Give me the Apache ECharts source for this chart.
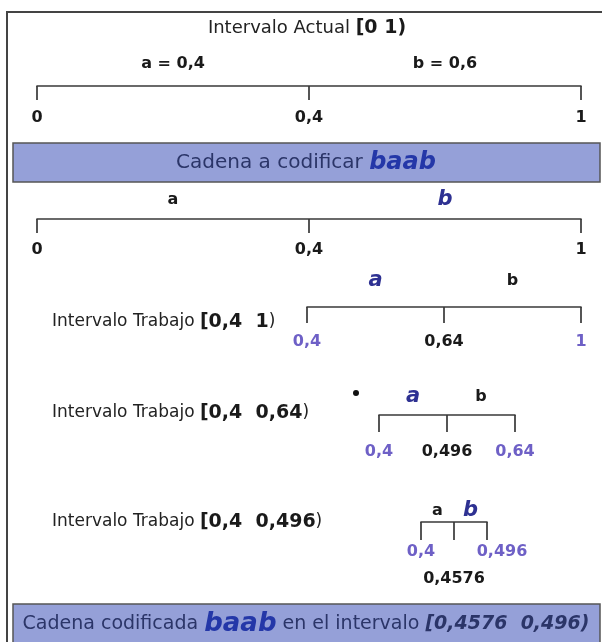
<!DOCTYPE html>
<html><head><meta charset="utf-8">
<script src="https://cdn.jsdelivr.net/npm/echarts@6/dist/echarts.min.js"></script>
<style>html,body{margin:0;padding:0;background:#fff}#c{width:602px;height:642px}</style>
</head><body><div id="c"></div>
<script>
// ---------- data ----------
const symbols = ['a', 'b'];
const probabilities = [0.4, 0.6];
const cadena = 'baab';
const intervaloActual = [0, 1];
const ticksActual = [0, 0.4, 1];
const ticksStep1 = [0, 0.4, 1];
const ticksStep2 = [0.4, 0.64, 1];
const ticksStep3 = [0.4, 0.496, 0.64];
const ticksStep4 = [0.4, 0.4576, 0.496];
const intervaloFinal = [0.4576, 0.496];

// ---------- helpers ----------
const fmt = v => String(v).replace('.', ',');
const FF = 'DejaVu Sans';
const NAVY = '#2e3192';
const PURPLE = '#6e60c6';
const LINE = '#383838';

const rows = [
  { ticks: ticksActual, chosen: null, header: null },
  { ticks: ticksStep1, chosen: cadena[0], header: null },
  { ticks: ticksStep2, chosen: cadena[1], header: [ticksStep2[0], ticksStep2[2]] },
  { ticks: ticksStep3, chosen: cadena[2], header: [ticksStep3[0], ticksStep3[2]] },
  { ticks: ticksStep4, chosen: cadena[3], header: [ticksStep4[0], ticksStep4[2]] }
];

// layout (positions only)
const layout = [
  { x0: 37, x1: 581, line: 86, tick: 14, lm: 22, sm: 10, hy: null },
  { x0: 37, x1: 581, line: 219, tick: 14, lm: 21, sm: 7, hy: null },
  { x0: 307, x1: 581, line: 307, tick: 16, lm: 25, sm: 14, hy: 322 },
  { x0: 379, x1: 515, line: 415, tick: 17, lm: 27, sm: 6, hy: 413 },
  { x0: 421, x1: 487, line: 522, tick: 18, lm: 20, sm: -1, hy: 522 }
];

const tickRich = {
  k: { fontFamily: FF, fontSize: 16, fontWeight: 'bold', color: '#1a1a1a', lineHeight: 20 },
  p: { fontFamily: FF, fontSize: 16, fontWeight: 'bold', color: PURPLE, lineHeight: 20 },
  kd: { fontFamily: FF, fontSize: 16, fontWeight: 'bold', color: '#1a1a1a', lineHeight: 20, padding: [54, 0, 0, 0] },
  pr: { fontFamily: FF, fontSize: 16, fontWeight: 'bold', color: PURPLE, lineHeight: 20, padding: [0, 0, 0, 30] }
};
const segRich = {
  k: { fontFamily: FF, fontSize: 16, fontWeight: 'bold', color: '#1a1a1a', lineHeight: 22 },
  h: { fontFamily: FF, fontSize: 21, fontWeight: 'bold', fontStyle: 'italic', color: NAVY, lineHeight: 22 }
};

const grids = [], xAxes = [], yAxes = [];
rows.forEach((r, i) => {
  const L = layout[i];
  grids.push({ left: L.x0, top: L.line - 1, width: L.x1 - L.x0, height: 1 });
  const last = i === rows.length - 1;
  xAxes.push({
    gridIndex: i, type: 'category', position: 'bottom', boundaryGap: false,
    data: r.ticks.map(fmt),
    axisLine: { show: true, onZero: false, lineStyle: { color: LINE, width: 1.7 } },
    axisTick: { show: true, length: L.tick, lineStyle: { color: LINE, width: 1.7 } },
    splitLine: { show: false },
    axisLabel: {
      show: true, interval: 0, margin: L.lm, rich: tickRich,
      formatter: (v, idx) => {
        const end = r.header && (idx === 0 || idx === 2);
        let s = end ? 'p' : 'k';
        if (last && idx === 1) s = 'kd';
        if (last && idx === 2) s = 'pr';
        return '{' + s + '|' + v + '}';
      }
    }
  });
  const segs = r.chosen === null
    ? symbols.map((s, j) => s + ' = ' + fmt(probabilities[j]))
    : symbols.slice();
  xAxes.push({
    gridIndex: i, type: 'category', position: 'top', boundaryGap: true,
    data: segs,
    axisLine: { show: false }, axisTick: { show: false }, splitLine: { show: false },
    axisLabel: {
      show: true, interval: 0, margin: L.sm, rich: segRich,
      formatter: (v) => '{' + (r.chosen !== null && v === r.chosen ? 'h' : 'k') + '|' + v + '}'
    }
  });
  yAxes.push({ gridIndex: i, type: 'value', show: false });
});

const graphic = [
  { type: 'rect', shape: { x: 7, y: 12, width: 620, height: 660 }, style: { fill: 'none', stroke: '#444', lineWidth: 2 }, z: 1 },
  { type: 'text', x: 307, y: 28, z: 5,
    style: { text: '{n|Intervalo Actual }{b|[' + fmt(intervaloActual[0]) + ' ' + fmt(intervaloActual[1]) + ')}',
      align: 'center', verticalAlign: 'middle', textAlign: 'center', textVerticalAlign: 'middle',
      rich: { n: { fontFamily: FF, fontSize: 18, fill: '#222' }, b: { fontFamily: FF, fontSize: 19, fontWeight: 'bold', fill: '#1a1a1a' } } } },
  { type: 'rect', shape: { x: 13, y: 143, width: 587, height: 39 }, style: { fill: '#95a0d8', stroke: '#555', lineWidth: 1.5 }, z: 1 },
  { type: 'text', x: 306, y: 163, z: 5,
    style: { text: '{n|Cadena a codificar }{b|' + cadena + '}',
      align: 'center', verticalAlign: 'middle', textAlign: 'center', textVerticalAlign: 'middle',
      rich: { n: { fontFamily: FF, fontSize: 20, fill: '#2b3568' }, b: { fontFamily: FF, fontSize: 24, fontWeight: 'bold', fontStyle: 'italic', fill: '#2437a8' } } } },
  { type: 'circle', shape: { cx: 356, cy: 393, r: 3 }, style: { fill: '#111' }, z: 5 },
  { type: 'rect', shape: { x: 13, y: 604, width: 587, height: 45 }, style: { fill: '#95a0d8', stroke: '#555', lineWidth: 1.5 }, z: 1 },
  { type: 'text', x: 306, y: 624, z: 5,
    style: { text: '{n|Cadena codificada }{b|' + cadena + '}{n| en el intervalo }{i|[' + fmt(intervaloFinal[0]) + '  ' + fmt(intervaloFinal[1]) + ')}',
      align: 'center', verticalAlign: 'middle', textAlign: 'center', textVerticalAlign: 'middle',
      rich: { n: { fontFamily: FF, fontSize: 19, fill: '#2b3568' },
              b: { fontFamily: FF, fontSize: 26, fontWeight: 'bold', fontStyle: 'italic', fill: '#2437a8' },
              i: { fontFamily: FF, fontSize: 19, fontWeight: 'bold', fontStyle: 'italic', fill: '#2b3568' } } } }
];
rows.forEach((r, i) => {
  if (!r.header) return;
  graphic.push({ type: 'text', x: 52, y: layout[i].hy, z: 5,
    style: { text: '{n|Intervalo Trabajo }{b|[' + fmt(r.header[0]) + '  ' + fmt(r.header[1]) + '}{n|)}',
      align: 'left', verticalAlign: 'middle', textAlign: 'left', textVerticalAlign: 'middle',
      rich: { n: { fontFamily: FF, fontSize: 17, fill: '#222' }, b: { fontFamily: FF, fontSize: 19, fontWeight: 'bold', fill: '#1a1a1a' } } } });
});

const chart = echarts.init(document.getElementById('c'), null, { renderer: 'canvas' });
chart.setOption({
  backgroundColor: '#ffffff',
  animation: false,
  grid: grids, xAxis: xAxes, yAxis: yAxes,
  series: [],
  graphic: graphic
});
</script></body></html>
